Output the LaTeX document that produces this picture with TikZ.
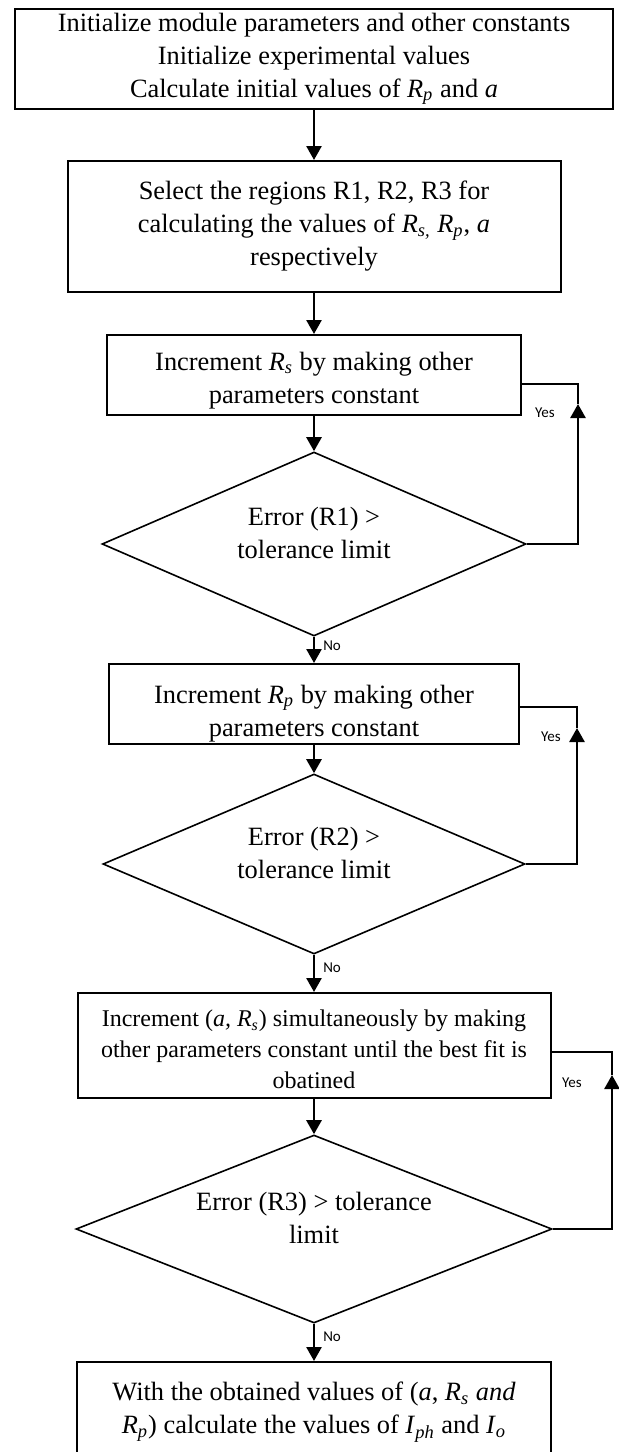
\documentclass[tikz,border=0pt]{standalone}
\usepackage{fontspec}
\setmainfont{Liberation Serif}
\newfontfamily\lblfont{Carlito}
\usetikzlibrary{arrows.meta,shapes.geometric}
\newcommand{\vsub}[2]{\textit{#1}\textsubscript{\textit{#2}}}
% move the lines of a node up or down without changing its size
\newcommand{\nudge}[2]{\raisebox{#1}[\height][\depth]{\begin{tabular}{@{}c@{}}#2\end{tabular}}}

\begin{document}
\begin{tikzpicture}[x=0.5pt,y=-0.5pt,>={Triangle[length=7pt,width=7.5pt]},
                    line width=1pt,font=\fontsize{13.2pt}{16.5pt}\selectfont]
  \tikzstyle{process}=[draw,rectangle,align=center,inner sep=2pt]
  \tikzstyle{decision}=[draw,diamond,aspect=2.5,align=center,inner sep=1pt,line width=0.8pt]
  \tikzstyle{flow}=[->,line width=1.3pt]
  \tikzstyle{lbl}=[font=\lblfont\fontsize{7.5pt}{9pt}\selectfont,inner sep=1pt]

  \useasboundingbox (0,0) rectangle (619,1452);
  \clip (0,0) rectangle (619,1452);

  \node[process,minimum width=299pt,minimum height=50pt] (I) at (314,59)
    {Initialize module parameters and other constants\\
     Initialize experimental values\\
     Calculate initial values of \vsub{R}{p} and \textit{a}};
  \node[process,minimum width=246.5pt,minimum height=65.5pt] (S) at (314,226.5)
    {Select the regions R1, R2, R3 for\\
     calculating the values of \vsub{R}{s,} \vsub{R}{p}, \textit{a}\\
     respectively};
  \node[process,minimum width=207pt,minimum height=40pt] (Rs) at (314,375)
    {\nudge{-2.5pt}{Increment \vsub{R}{s} by making other\\ parameters constant}};
  \node[decision,minimum width=212pt,minimum height=92pt] (E1) at (314,544)
    {\nudge{4.5pt}{Error (R1) >\\ tolerance limit}};
  \node[process,minimum width=205pt,minimum height=40pt] (Rp) at (314,704)
    {\nudge{-4.5pt}{Increment \vsub{R}{p} by making other\\ parameters constant}};
  \node[decision,minimum width=211pt,minimum height=90pt] (E2) at (314,864)
    {\nudge{4.5pt}{Error (R2) >\\ tolerance limit}};
  \node[process,minimum width=236.5pt,minimum height=52.5pt,
        font=\fontsize{12pt}{15.5pt}\selectfont] (Fit) at (314,1045.5)
    {\nudge{-3pt}{Increment (\textit{a,} \vsub{R}{s}) simultaneously by making\\
     other parameters constant until the best fit is\\ obatined}};
  \node[decision,minimum width=238pt,minimum height=94pt] (E3) at (314,1229)
    {\nudge{4.5pt}{Error (R3) > tolerance\\ limit}};
  \node[process,minimum width=237pt,minimum height=50pt] (Out) at (314,1412)
    {With the obtained values of (\textit{a}, \vsub{R}{s} \textit{and}\\
     \vsub{R}{p}) calculate the values of \vsub{I}{ph} and \vsub{I}{o}};

  \path[flow] (I) edge (S)
              (S) edge (Rs)
              (Rs) edge (E1)
              (E1) edge node[lbl,right=3pt,pos=0.35] {No} (Rp)
              (Rp) edge (E2)
              (E2) edge node[lbl,right=3pt,pos=0.35] {No} (Fit)
              (Fit) edge (E3)
              (E3) edge node[lbl,right=3pt,pos=0.35] {No} (Out);

  % loops back when the error is too large
  \coordinate (t1) at (578,404);
  \coordinate (t2) at (577,728);
  \coordinate (t3) at (612,1075);
  \draw[flow] (E1.east) -| (t1);
  \draw (t1) |- ([yshift=-4.5pt]Rs.east);
  \draw[flow] (E2.east) -| (t2);
  \draw (t2) |- ([yshift=-1.5pt]Rp.east);
  \draw[flow] (E3.east) -| (t3);
  \draw (t3) |- ([yshift=-3pt]Fit.east);
  \node[lbl] (y1) at (545,413) {Yes};
  \node[lbl] (y2) at (551,737) {Yes};
  \node[lbl] (y3) at (572,1083) {Yes};
\end{tikzpicture}
\end{document}
